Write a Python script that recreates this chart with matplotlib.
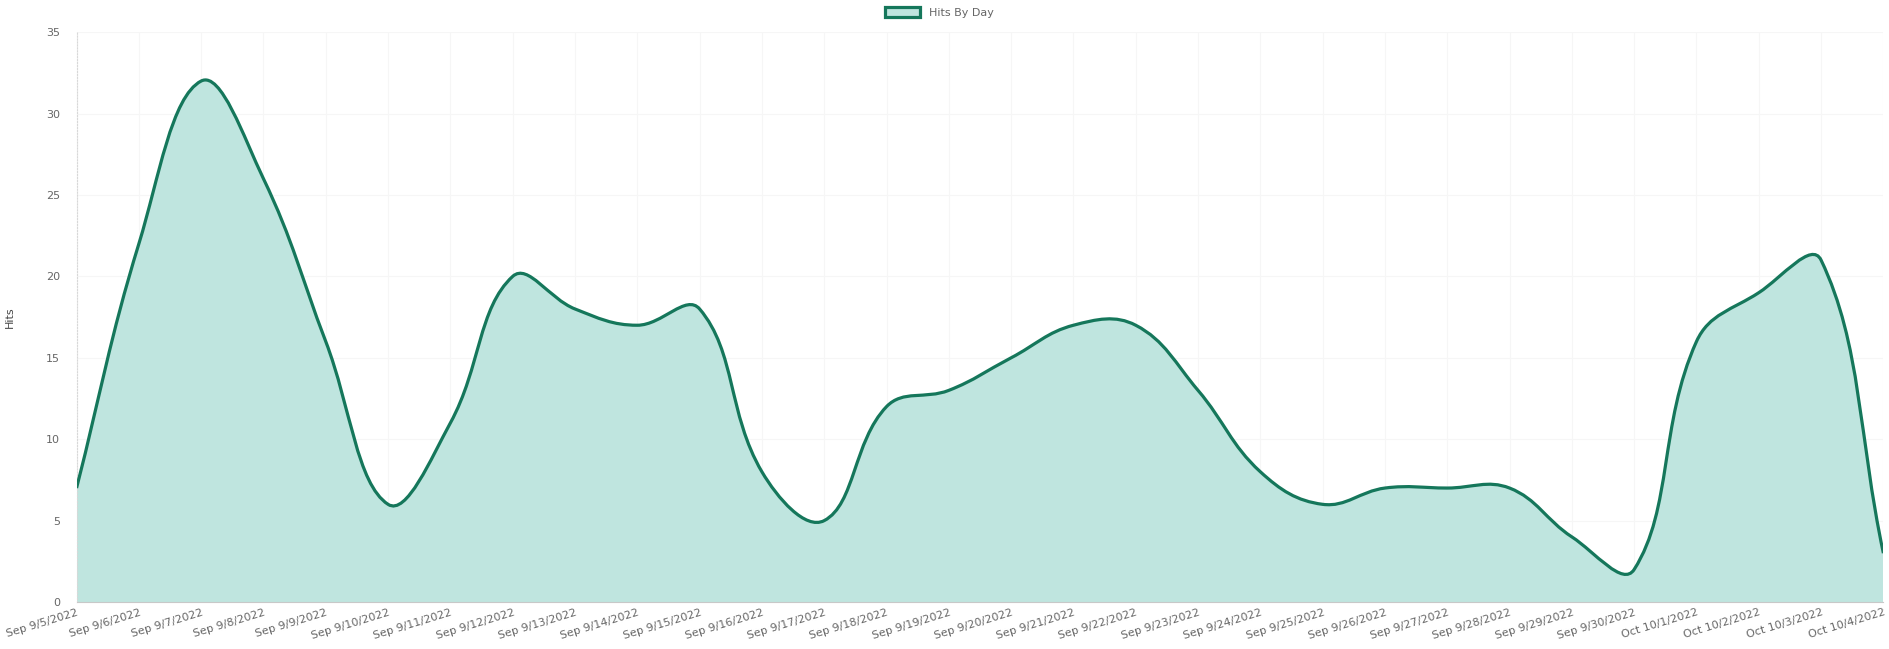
import numpy as np
import matplotlib
matplotlib.use("Agg")
import matplotlib.pyplot as plt
from matplotlib.path import Path
from matplotlib.patches import PathPatch, Patch

# ---- data -------------------------------------------------------------
days = [
    "Sep 9/5/2022", "Sep 9/6/2022", "Sep 9/7/2022", "Sep 9/8/2022",
    "Sep 9/9/2022", "Sep 9/10/2022", "Sep 9/11/2022", "Sep 9/12/2022",
    "Sep 9/13/2022", "Sep 9/14/2022", "Sep 9/15/2022", "Sep 9/16/2022",
    "Sep 9/17/2022", "Sep 9/18/2022", "Sep 9/19/2022", "Sep 9/20/2022",
    "Sep 9/21/2022", "Sep 9/22/2022", "Sep 9/23/2022", "Sep 9/24/2022",
    "Sep 9/25/2022", "Sep 9/26/2022", "Sep 9/27/2022", "Sep 9/28/2022",
    "Sep 9/29/2022", "Sep 9/30/2022", "Oct 10/1/2022", "Oct 10/2/2022",
    "Oct 10/3/2022", "Oct 10/4/2022",
]
hits = [7, 22, 32, 26, 16, 6, 11, 20, 18, 17, 18, 8, 5, 12, 13, 15,
        17, 17, 13, 8, 6, 7, 7, 7, 4, 2, 16, 19, 21, 3]
y_ticks = [0, 5, 10, 15, 20, 25, 30, 35]

LINE = "#15775b"
FILL = "#bfe5df"
TEXT = "#666666"


def spline_verts(ax, xs, ys, tension=0.4):
    """Bezier path through the points, same rule as a Chart.js line (tension 0.4)."""
    pts = ax.transData.transform(np.column_stack([xs, ys]))
    bb = ax.bbox
    n = len(pts)
    cp_in, cp_out = [], []
    for i in range(n):
        cur = pts[i]
        prev = pts[i - 1] if i > 0 else cur
        nxt = pts[i + 1] if i < n - 1 else cur
        d01 = np.hypot(*(cur - prev))
        d12 = np.hypot(*(nxt - cur))
        tot = d01 + d12
        s01 = d01 / tot if tot else 0.0
        s12 = d12 / tot if tot else 0.0
        c_in = cur - tension * s01 * (nxt - prev)
        c_out = cur + tension * s12 * (nxt - prev)
        for c in (c_in, c_out):
            c[0] = min(max(c[0], bb.x0), bb.x1)
            c[1] = min(max(c[1], bb.y0), bb.y1)
        cp_in.append(c_in)
        cp_out.append(c_out)
    verts, codes = [pts[0]], [Path.MOVETO]
    for i in range(n - 1):
        verts += [cp_out[i], cp_in[i + 1], pts[i + 1]]
        codes += [Path.CURVE4] * 3
    return ax.transData.inverted().transform(np.array(verts)), codes


fig = plt.figure(figsize=(18.9, 6.49), dpi=100)
ax = fig.add_axes([0.0405, 0.0724, 0.956, 0.878])
x = np.arange(len(hits))
ax.set_xlim(0, len(hits) - 1)
ax.set_ylim(0, 35)

verts, codes = spline_verts(ax, x, hits)
line = Path(verts, codes)
fill = Path(np.vstack([verts, [[x[-1], 0], [x[0], 0], [x[0], 0]]]),
            codes + [Path.LINETO, Path.LINETO, Path.CLOSEPOLY])
ax.add_patch(PathPatch(fill, facecolor=FILL, edgecolor="none", zorder=1))
ax.add_patch(PathPatch(line, facecolor="none", edgecolor=LINE, lw=2.3,
                       capstyle="butt", zorder=3))

ax.set_xticks(x)
ax.set_xticklabels(days, rotation=17, ha="right", rotation_mode="anchor",
                   fontsize=8, color=TEXT)
ax.set_yticks(y_ticks)
ax.tick_params(axis="y", labelsize=8, labelcolor=TEXT, length=0, pad=12)
ax.tick_params(axis="x", length=0, pad=4)
ax.set_ylabel("Hits", fontsize=8, color="#444444", labelpad=22)

ax.grid(True, color="#f6f6f6", lw=0.8, zorder=0)
ax.set_axisbelow(True)
for side in ("top", "right"):
    ax.spines[side].set_visible(False)
ax.spines["left"].set_color("#d8d8d8")
ax.spines["left"].set_linestyle(":")
ax.spines["bottom"].set_color("#c8c8c8")

handle = Patch(facecolor=FILL, edgecolor=LINE, lw=2.3)
fig.legend([handle], ["Hits By Day"], loc="upper center",
           bbox_to_anchor=(0.497, 1.005), frameon=False, fontsize=8,
           labelcolor=TEXT, handlelength=3.2, handleheight=1.0)

fig.savefig("out.png", dpi=100)
